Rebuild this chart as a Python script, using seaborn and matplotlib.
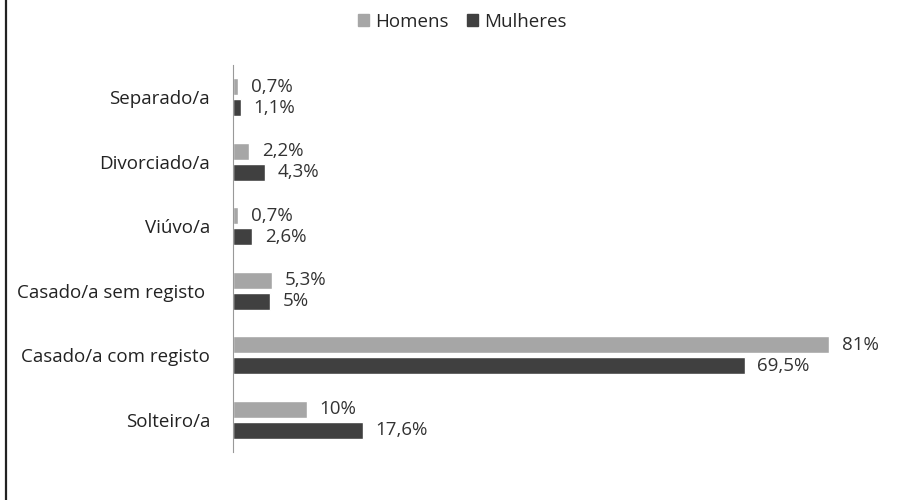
import pandas as pd
import seaborn as sns
import matplotlib.pyplot as plt
from matplotlib.patches import Rectangle
from matplotlib.lines import Line2D

categories = ["Separado/a", "Divorciado/a", "Viúvo/a", "Casado/a sem registo ",
              "Casado/a com registo", "Solteiro/a"]
homens = [0.7, 2.2, 0.7, 5.3, 81, 10]
mulheres = [1.1, 4.3, 2.6, 5, 69.5, 17.6]
series = ["Homens", "Mulheres"]
colors = ["#a6a6a6", "#404040"]


def fmt(v):
    s = f"{v:g}".replace(".", ",")
    return s + "%"


df = pd.DataFrame({
    "categoria": categories * 2,
    "valor": homens + mulheres,
    "sexo": [series[0]] * len(categories) + [series[1]] * len(categories),
})

sns.set_style("white")
plt.rcParams["font.family"] = ["Open Sans", "DejaVu Sans"]

fig = plt.figure(figsize=(9.01, 5.0), dpi=100)
ax = fig.add_axes([233 / 901, 1 - 452 / 500, 648 / 901, 387 / 500])

sns.barplot(data=df, y="categoria", x="valor", hue="sexo", order=categories,
            hue_order=series, palette=colors, orient="h", width=0.64, gap=0.17,
            legend=False, ax=ax)

for container, vals in zip(ax.containers, [homens, mulheres]):
    ax.bar_label(container, labels=[fmt(v) for v in vals], padding=9,
                 fontsize=13.5, color="#333333")

ax.set_xlim(0, 88)
ax.set_xlabel("")
ax.set_ylabel("")
ax.set_xticks([])
sns.despine(ax=ax, top=True, right=True, bottom=True, left=False)
ax.spines["left"].set_color("#999999")
ax.tick_params(axis="y", length=0, pad=16.5, labelsize=13.5, labelcolor="#222222")

handles = [Rectangle((0, 0), 1, 1, color=c) for c in colors]
fig.legend(handles, series, loc="upper center", bbox_to_anchor=(0.513, 1.008),
           ncol=2, frameon=False, handlelength=0.6, handleheight=0.6,
           handletextpad=0.3, columnspacing=1.0, fontsize=13.5)

# left edge line of the original frame
fig.lines.append(Line2D([6 / 901, 6 / 901], [0, 1], transform=fig.transFigure,
                        color="#222222", linewidth=1.6))

fig.savefig("out.png", dpi=100)
